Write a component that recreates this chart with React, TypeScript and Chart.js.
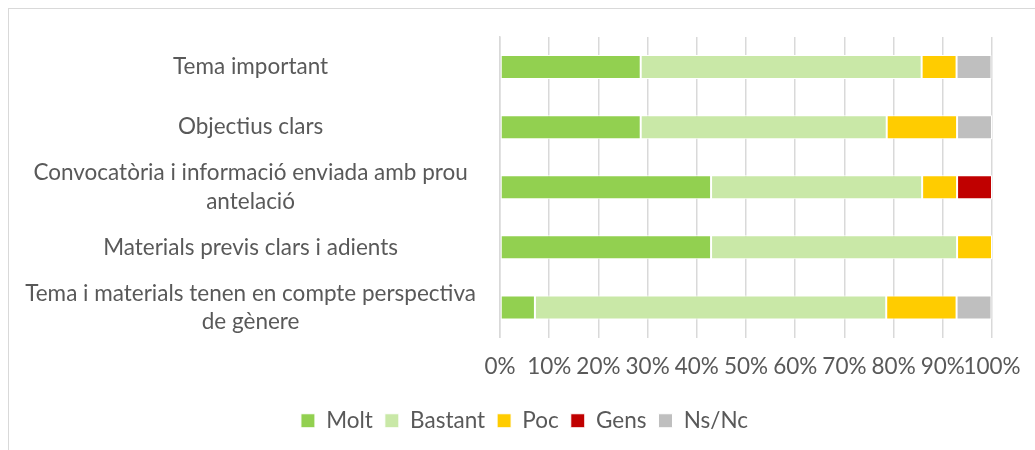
import React, { useEffect, useRef } from "react";
import { Chart, registerables } from "chart.js";

Chart.register(...registerables);

const categories: (string | string[])[] = [
  "Tema important",
  "Objectius clars",
  ["Convocatòria i informació enviada amb prou", "antelació"],
  "Materials previs clars i adients",
  ["Tema i materials tenen en compte perspectiva", "de gènere"],
];

const molt = [28.6, 28.6, 42.9, 42.9, 7.1];
const bastant = [57.1, 50.0, 42.9, 50.0, 71.4];
const poc = [7.1, 14.3, 7.1, 7.1, 14.3];
const gens = [0, 0, 7.1, 0, 0];
const nsnc = [7.1, 7.1, 0, 0, 7.1];

const seriesNames = ["Molt", "Bastant", "Poc", "Gens", "Ns/Nc"];
const seriesColors = ["#92D050", "#C9E8A7", "#FFCC00", "#C00000", "#BFBFBF"];
const xTicks = [0, 10, 20, 30, 40, 50, 60, 70, 80, 90, 100];

const FONT = "Lato, 'Open Sans', sans-serif";
const TEXT = "#595959";
const FS = 22.5;

const legendShift = {
  id: "legendShift",
  afterLayout(chart: any) {
    const lg = chart.legend;
    if (!lg) return;
    lg.left += 19;
    lg.right += 19;
    lg.top += 1;
    lg.bottom += 1;
  },
};

export default function App() {
  const ref = useRef<HTMLCanvasElement | null>(null);

  useEffect(() => {
    if (!ref.current) return;
    const values = [molt, bastant, poc, gens, nsnc];
    const chart = new Chart(ref.current, {
      type: "bar",
      data: {
        labels: categories,
        datasets: seriesNames.map((name, i) => ({
          label: name,
          data: values[i],
          backgroundColor: seriesColors[i],
          borderColor: "#ffffff",
          borderWidth: 1,
          borderSkipped: false,
          categoryPercentage: 0.5,
          barPercentage: 0.8,
        })),
      },
      plugins: [legendShift],
      options: {
        indexAxis: "y",
        responsive: false,
        animation: false,
        layout: { padding: { top: 28, left: 10, right: 50, bottom: 9 } },
        plugins: {
          tooltip: { enabled: false },
          legend: {
            position: "bottom",
            labels: {
              boxWidth: 14,
              boxHeight: 14,
              padding: 12,
              color: TEXT,
              font: { family: FONT, size: FS },
            },
          },
        },
        scales: {
          x: {
            stacked: true,
            min: 0,
            max: 100,
            afterBuildTicks: (scale: any) => {
              scale.ticks = xTicks.map((v) => ({ value: v }));
            },
            ticks: {
              color: TEXT,
              padding: 16,
              autoSkip: false,
              maxRotation: 0,
              minRotation: 0,
              font: { family: FONT, size: FS },
              callback: (v: any) => v + "%",
            },
            grid: { color: "#D9D9D9", lineWidth: 1.5, drawTicks: false },
            border: { display: false },
          },
          y: {
            stacked: true,
            afterFit: (scale: any) => {
              scale.width = 481;
              scale.paddingTop = 0;
              scale.paddingBottom = 0;
            },
            ticks: {
              color: TEXT,
              padding: 24,
              autoSkip: false,
              crossAlign: "center",
              font: { family: FONT, size: FS, lineHeight: 1.25 },
            },
            grid: { display: false, drawTicks: false },
            border: { display: true, color: "#D9D9D9", width: 1.5 },
          },
        },
      },
    });
    return () => chart.destroy();
  }, []);

  return (
    <div
      style={{
        position: "fixed",
        left: 8,
        top: 8,
        width: 1100,
        height: 500,
        borderTop: "1.5px solid #D9D9D9",
        borderLeft: "1.5px solid #D9D9D9",
        background: "#fff",
      }}
    >
      <canvas ref={ref} width={1033} height={441} style={{ display: "block" }} />
    </div>
  );
}
